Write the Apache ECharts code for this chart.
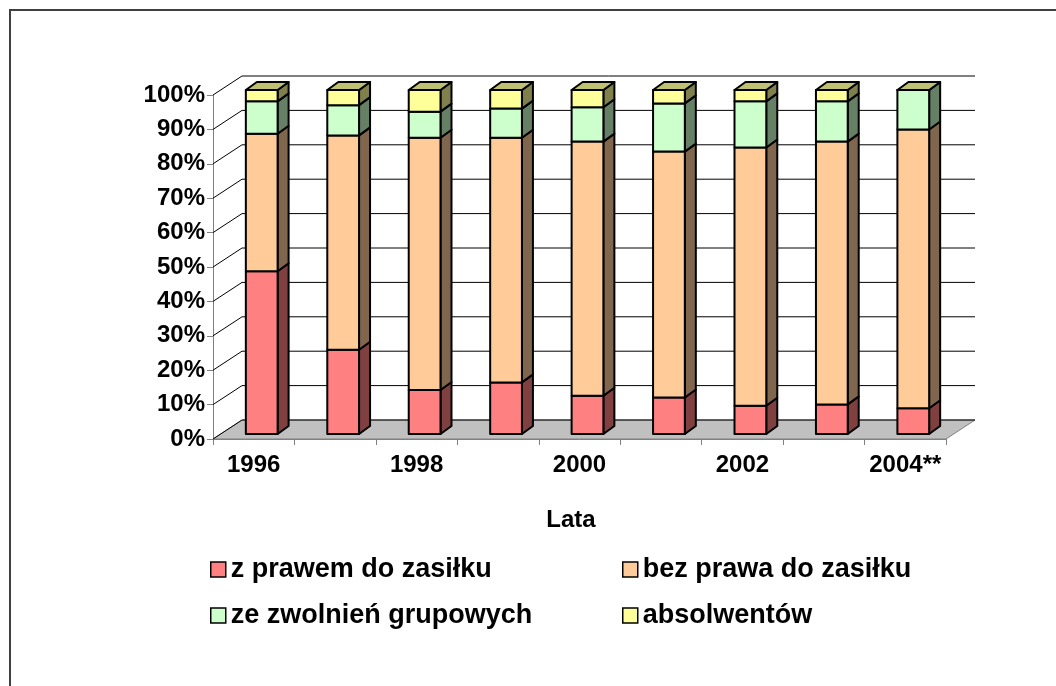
<!DOCTYPE html>
<html>
<head>
<meta charset="utf-8">
<script src="https://cdn.jsdelivr.net/npm/echarts@6/dist/echarts.min.js"></script>
<style>
  html, body { margin: 0; padding: 0; background: #fff; }
  #chart { width: 1056px; height: 686px; }
</style>
</head>
<body>
<div id="chart"></div>
<script>
// Bezrobotni wg kategorii, struktura % w latach 1996-2004

const lata = ['1996', '1997', '1998', '1999', '2000', '2001', '2002', '2003', '2004**'];
const zPrawem = [47.3, 24.5, 12.8, 15.0, 11.1, 10.6, 8.2, 8.6, 7.5];
const bezPrawa = [40.0, 62.3, 73.3, 71.1, 73.9, 71.5, 75.1, 76.4, 81.0];
const zwolnienia = [9.4, 8.8, 7.6, 8.5, 10.0, 14.0, 13.4, 11.7, 11.5];
const absolwenci = [3.3, 4.4, 6.3, 5.4, 5.0, 3.9, 3.3, 3.3, 0];
const yTicks = [0, 10, 20, 30, 40, 50, 60, 70, 80, 90, 100];

const nazwy = ['z prawem do zasiłku', 'bez prawa do zasiłku', 'ze zwolnień grupowych', 'absolwentów'];
const kolory = ['#FF8080', '#FFCC99', '#CCFFCC', '#FFFF99'];
const bokKolory = ['#804040', '#80664C', '#668066', '#80804C'];
const gora = '#C0C073';

const font = 'Liberation Sans, Arial, sans-serif';

// przesunięcia "3D"
const WALL_DX = 29, WALL_DY = -19;
const BAR_OFF_X = 8, BAR_OFF_Y = -5;
const BAR_DX = 11, BAR_DY = -8;

const chart = echarts.init(document.getElementById('chart'));

// skumulowane początki / końce segmentów
const serie = [zPrawem, bezPrawa, zwolnienia, absolwenci];
const stos = lata.map(() => 0);
const segmenty = serie.map(vals => vals.map((v, i) => {
    const od = stos[i];
    stos[i] += v;
    return [i, od, stos[i]];
}));

function renderBar(sIdx) {
    return function (params, api) {
        const i = api.value(0);
        const dol = api.coord([i, api.value(1)]);
        const gor = api.coord([i, api.value(2)]);
        const bw = api.size([1, 0])[0] * 0.39;
        const x0 = dol[0] - bw / 2 + BAR_OFF_X;
        const x1 = x0 + bw;
        const yb = dol[1] + BAR_OFF_Y;
        const yt = gor[1] + BAR_OFF_Y;
        const line = { stroke: '#000', lineWidth: 2, lineJoin: 'round' };
        const children = [
            {
                type: 'polygon',
                shape: { points: [[x1, yb], [x1 + BAR_DX, yb + BAR_DY], [x1 + BAR_DX, yt + BAR_DY], [x1, yt]] },
                style: Object.assign({ fill: bokKolory[sIdx] }, line)
            },
            {
                type: 'rect',
                shape: { x: x0, y: yt, width: bw, height: yb - yt },
                style: Object.assign({ fill: kolory[sIdx] }, line)
            }
        ];
        if (sIdx === 3) {
            children.push({
                type: 'polygon',
                shape: { points: [[x0, yt], [x0 + BAR_DX, yt + BAR_DY], [x1 + BAR_DX, yt + BAR_DY], [x1, yt]] },
                style: Object.assign({ fill: gora }, line)
            });
        }
        return { type: 'group', children: children };
    };
}

function krawedzie(api) {
    const half = api.size([1, 0])[0] / 2;
    return [api.coord([0, 0])[0] - half, api.coord([lata.length - 1, 0])[0] + half];
}

const barSeries = serie.map((vals, s) => ({
    name: nazwy[s],
    type: 'custom',
    z: 5 + s,
    itemStyle: { color: kolory[s] },
    renderItem: renderBar(s),
    encode: { x: 0, y: [1, 2] },
    data: segmenty[s]
}));

const legendPos = [[210, 556], [622, 556], [210, 602], [622, 602]];

const option = {
    backgroundColor: '#fff',
    animation: false,
    textStyle: { fontFamily: font },
    graphic: [{
        type: 'rect',
        shape: { x: 10, y: 10, width: 1100, height: 720 },
        style: { fill: 'none', stroke: '#404040', lineWidth: 2 },
        silent: true
    }],
    legend: nazwy.map((n, k) => ({
        data: [n],
        left: legendPos[k][0],
        top: legendPos[k][1],
        padding: 0,
        itemWidth: 15,
        itemHeight: 15,
        selectedMode: false,
        icon: 'rect',
        itemStyle: { borderColor: '#000', borderWidth: 1.5 },
        textStyle: { fontSize: 27, fontWeight: 'bold', color: '#000', fontFamily: font }
    })),
    grid: { left: 213, top: 95, width: 733, height: 344 },
    xAxis: {
        type: 'category',
        data: lata,
        name: 'Lata',
        nameLocation: 'middle',
        nameGap: 69,
        nameTextStyle: { fontSize: 24, fontWeight: 'bold', color: '#000', fontFamily: font, padding: [0, 17, 0, 0] },
        axisLine: { lineStyle: { color: '#808080', width: 1 } },
        axisTick: { show: true, interval: 0, length: 6, lineStyle: { color: '#808080' } },
        axisLabel: { interval: 1, margin: 14, fontSize: 24, fontWeight: 'bold', color: '#000', fontFamily: font },
        splitLine: { show: false }
    },
    yAxis: {
        type: 'value',
        min: 0,
        max: 100,
        interval: 10,
        axisLine: { show: true, lineStyle: { color: '#808080', width: 1 } },
        axisTick: { show: true, length: 6, lineStyle: { color: '#808080' } },
        axisLabel: { formatter: '{value}%', margin: 8, fontSize: 24, fontWeight: 'bold', color: '#000', fontFamily: font },
        splitLine: { show: false }
    },
    series: [
        {
            // podłoga
            type: 'custom',
            z: 1,
            silent: true,
            renderItem: function (params, api) {
                const [xl, xr] = krawedzie(api);
                const y = api.coord([0, api.value(1)])[1];
                return {
                    type: 'polygon',
                    shape: { points: [[xl, y], [xl + WALL_DX, y + WALL_DY], [xr + WALL_DX, y + WALL_DY], [xr, y]] },
                    style: { fill: '#C0C0C0', stroke: '#808080', lineWidth: 1 }
                };
            },
            data: [[0, 0]]
        },
        {
            // linie siatki na ścianach
            type: 'custom',
            z: 2,
            silent: true,
            renderItem: function (params, api) {
                const [xl, xr] = krawedzie(api);
                const y = api.coord([0, api.value(1)])[1];
                return {
                    type: 'polyline',
                    shape: { points: [[xl, y], [xl + WALL_DX, y + WALL_DY], [xr + WALL_DX, y + WALL_DY]] },
                    style: { fill: 'none', stroke: '#000', lineWidth: 1 }
                };
            },
            data: yTicks.map(v => [0, v])
        }
    ].concat(barSeries)
};

chart.setOption(option);
</script>
</body>
</html>
